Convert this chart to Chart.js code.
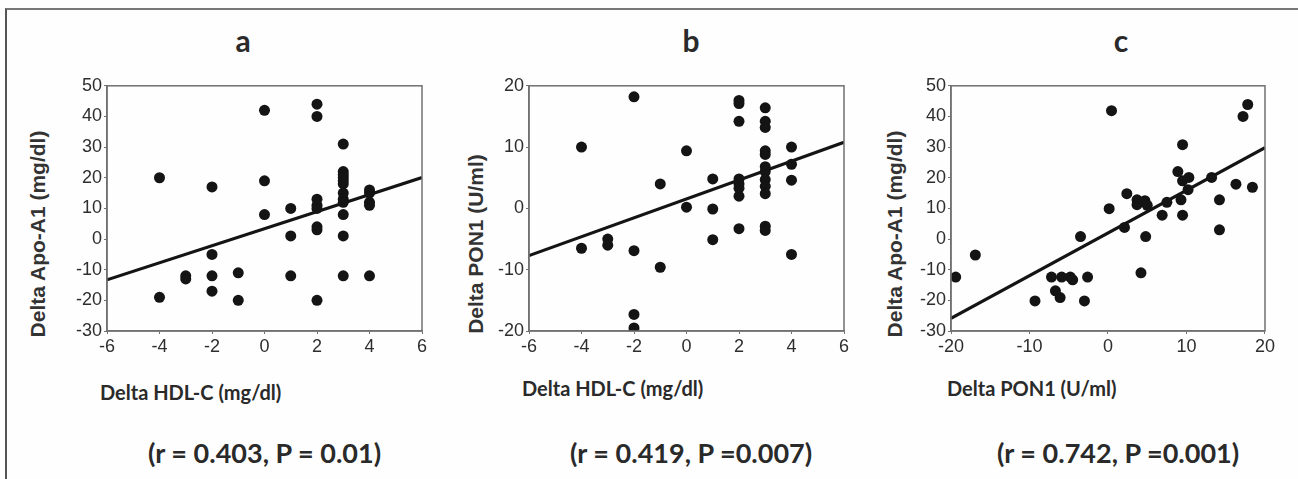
<!DOCTYPE html>
<html>
<head>
<meta charset="utf-8">
<script src="https://cdn.jsdelivr.net/npm/chart.js@4/dist/chart.umd.min.js"></script>
<style>
  body { margin:0; background:#fff; }
  #page { position:relative; width:1298px; height:479px; overflow:hidden; background:#fefefe; }
  #frame { position:absolute; left:5px; top:8px; width:1293px; height:480px; border-top:2px solid #777; border-left:2px solid #555; }
  canvas { position:absolute; }
  .t { position:absolute; white-space:nowrap; color:#2a2a2a; font-family:Lato, 'Open Sans', sans-serif; font-weight:bold; }
  .panel { font-size:30px; transform:translate(-50%,-50%); }
  .xt { font-size:20px; transform:translate(0,-50%); }
  .yt { font-family:'Liberation Sans', Arial, sans-serif; font-size:21px; transform:translate(-50%,-50%) rotate(-90deg); color:#333; }
  .rp { font-size:27px; transform:translate(0,-50%); }
</style>
</head>
<body>
<div id="page">
  <div id="frame"></div>
  <div class="t panel" style="left:243px;top:40px">a</div>
  <div class="t panel" style="left:691px;top:40px">b</div>
  <div class="t panel" style="left:1121px;top:40px">c</div>

  <div class="t yt" style="left:38px;top:234px">Delta Apo-A1 (mg/dl)</div>
  <div class="t yt" style="left:476px;top:244px">Delta PON1 (U/ml)</div>
  <div class="t yt" style="left:895px;top:234px">Delta Apo-A1 (mg/dl)</div>

  <div class="t xt" style="left:100px;top:392px">Delta HDL-C (mg/dl)</div>
  <div class="t xt" style="left:522px;top:388px">Delta HDL-C (mg/dl)</div>
  <div class="t xt" style="left:947px;top:388px">Delta PON1 (U/ml)</div>

  <div class="t rp" style="left:148px;top:452px">(r = 0.403, P = 0.01)</div>
  <div class="t rp" style="left:570px;top:452px">(r = 0.419, P =0.007)</div>
  <div class="t rp" style="left:997px;top:452px">(r = 0.742, P =0.001)</div>

  <canvas id="chartA" width="385" height="288" style="left:47px;top:73px"></canvas>
  <canvas id="chartB" width="385" height="288" style="left:469px;top:73px"></canvas>
  <canvas id="chartC" width="386" height="288" style="left:891px;top:73px"></canvas>
</div>
<script>
// panel a: Delta HDL-C vs Delta Apo-A1
const aX = [-4,-4,-3,-3,-2,-2,-2,-2,-1,-1,0,0,0,1,1,1,2,2,2,2,2,2,2,2,3,3,3,3,3,3,3,3,3,3,3,3,4,4,4,4,4]
const aY = [20,-19,-12,-13,17,-5,-12,-17,-11,-20,42,19,8,10,1,-12,44,40,13,11,10,4,3,-20,31,22,21,20,19,18,15,13,12,8,1,-12,16,15,12,11,-12]
const aLineX = [-6, 6]
const aLineY = [-13.3, 20.1]

// panel b: Delta HDL-C vs Delta PON1
const bX = [-4,-4,-3,-3,-2,-2,-2,-2,-1,-1,0,0,1,1,1,2,2,2,2,2,2,2,2,3,3,3,3,3,3,3,3,3,3,3,3,4,4,4,4]
const bY = [10,-6.5,-5,-6,18.2,-6.9,-17.3,-19.5,4,-9.6,9.4,0.2,4.8,-0.1,-5.1,17.6,17.1,14.2,4.8,4,3.3,2,-3.3,16.4,14.2,13.2,9.4,8.8,6.8,6,4.7,3.6,2.4,-2.9,-3.6,10,7.2,4.6,-7.5]
const bLineX = [-6, 6]
const bLineY = [-7.7, 10.8]

// panel c: Delta PON1 vs Delta Apo-A1
const cX = [-19.4,-16.9,-9.3,-7.2,-6.7,-6.1,-5.9,-4.8,-4.5,-3.5,-3.0,-2.6,0.15,0.45,2.1,2.4,3.7,3.7,4.2,4.7,5.0,4.8,6.9,7.5,8.9,9.3,9.5,9.5,9.5,10.3,10.2,13.2,14.2,14.2,16.3,17.2,17.8,18.4]
const cY = [-12.4,-5.2,-20.2,-12.4,-16.9,-19.1,-12.4,-12.4,-13.3,0.8,-20.2,-12.4,9.9,41.9,3.8,14.8,12.8,11.2,-11,12.5,11,0.8,7.8,12,22,12.8,30.8,19,7.8,20.1,16.1,20.1,12.8,3,17.9,40,43.9,16.9]
const cLineX = [-20, 20]
const cLineY = [-25.9, 29.8]

const xTicksAB = [-6, 6, 2]
const xTicksC = [-20, 20, 10]
const yTicksAC = [-30, 50, 10]
const yTicksB = [-20, 20, 10]

Chart.defaults.font.family = "'Liberation Sans', Arial, sans-serif"
Chart.defaults.font.size = 18
Chart.defaults.color = '#2e2e2e'

// grey frame round the plot area, like the original
const boxPlugin = {
  id: 'box',
  afterDraw(chart){
    const {ctx, chartArea:a} = chart
    ctx.save(); ctx.strokeStyle = '#707070'; ctx.lineWidth = 1.5
    ctx.strokeRect(a.left, a.top, a.right - a.left, a.bottom - a.top)
    ctx.restore()
  }
}

const zip = (xs, ys) => xs.map((x, i) => ({ x, y: ys[i] }))

function axis(range, fitKey, fitVal){
  return {
    type: 'linear', min: range[0], max: range[1],
    ticks: { stepSize: range[2], font: { size: 18 }, padding: 2, color: '#2e2e2e' },
    grid: { display: true, drawOnChartArea: false, drawTicks: true, tickLength: 3, color: '#707070' },
    border: { display: true, color: '#707070', width: 1.5 },
    afterFit(s){ s[fitKey] = fitVal }
  }
}

function makeChart(id, xs, ys, lx, ly, xr, yr){
  return new Chart(document.getElementById(id), {
    type: 'scatter',
    data: { datasets: [
      { data: zip(xs, ys), pointRadius: 5.5, pointHoverRadius: 5.5, backgroundColor: '#141414', borderWidth: 0, showLine: false },
      { data: zip(lx, ly), showLine: true, pointRadius: 0, borderColor: '#141414', borderWidth: 3.2 }
    ]},
    options: {
      responsive: false, animation: false,
      layout: { padding: { left: 0, top: 10, right: 10, bottom: 0 } },
      plugins: { legend: { display: false }, tooltip: { enabled: false } },
      scales: { x: axis(xr, 'height', 30), y: axis(yr, 'width', 60) }
    },
    plugins: [boxPlugin]
  })
}

makeChart('chartA', aX, aY, aLineX, aLineY, xTicksAB, yTicksAC)
makeChart('chartB', bX, bY, bLineX, bLineY, xTicksAB, yTicksB)
makeChart('chartC', cX, cY, cLineX, cLineY, xTicksC, yTicksAC)
</script>
</body>
</html>
